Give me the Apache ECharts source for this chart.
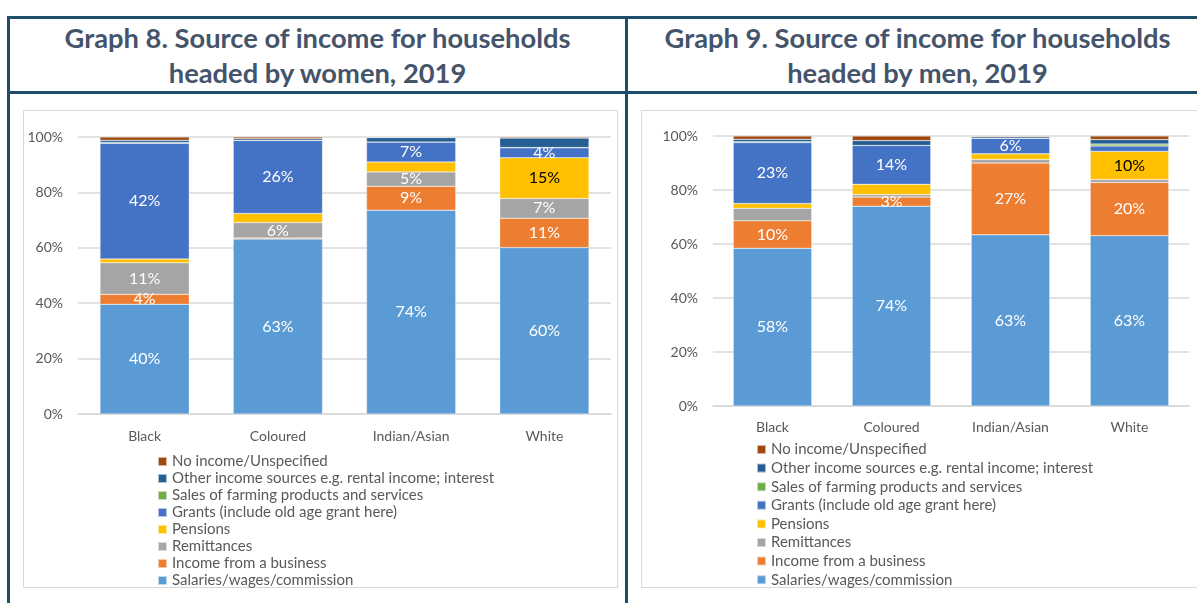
<!DOCTYPE html>
<html>
<head>
<meta charset="utf-8">
<script src="https://cdn.jsdelivr.net/npm/echarts@6/dist/echarts.min.js"></script>
<style>
  body { margin: 0; width: 1197px; height: 603px; overflow: hidden; background: #fff; position: relative; font-family: Lato, sans-serif; }
  .line { position: absolute; background: #1f4e6b; }
  .title { position: absolute; top: 20px; height: 70px; text-align: center; color: #44546a; font-weight: bold; font-size: 27.3px; line-height: 35px; white-space: nowrap; }
  .box { position: absolute; border: 1px solid #d9d9d9; box-sizing: border-box; }
  .chart { position: absolute; }
</style>
</head>
<body>
  <!-- table frame -->
  <div class="line" style="left:7px;top:16px;width:1200px;height:3px"></div>
  <div class="line" style="left:7px;top:91px;width:1200px;height:3px"></div>
  <div class="line" style="left:7px;top:16px;width:3px;height:600px"></div>
  <div class="line" style="left:625px;top:16px;width:3px;height:600px"></div>

  <div class="title" style="left:10px;width:615px">Graph 8. Source of income for households<br>headed by women, 2019</div>
  <div class="title" style="left:628px;width:579px">Graph 9. Source of income for households<br>headed by men, 2019</div>

  <div class="box" style="left:23px;top:110px;width:595px;height:478px"></div>
  <div class="box" style="left:641px;top:110px;width:600px;height:478px"></div>
  <div id="chartWomen" class="chart" style="left:24px;top:111px;width:593px;height:490px"></div>
  <div id="chartMen" class="chart" style="left:642px;top:111px;width:560px;height:490px"></div>

<script>
  var categories = ['Black', 'Coloured', 'Indian/Asian', 'White'];
  var seriesNames = [
    'Salaries/wages/commission',
    'Income from a business',
    'Remittances',
    'Pensions',
    'Grants (include old age grant here)',
    'Sales of farming products and services',
    'Other income sources e.g. rental income; interest',
    'No income/Unspecified'
  ];
  var seriesColors = ['#5b9bd5', '#ed7d31', '#a5a5a5', '#ffc000', '#4472c4', '#70ad47', '#255e91', '#9e480e'];
  var yTicks = [0, 20, 40, 60, 80, 100];

  // households headed by women (%), one array per source
  var salariesW = [39.6, 63.2, 73.6, 60.1];
  var businessW = [3.6, 0.3, 8.6, 10.6];
  var remittancesW = [11.4, 5.6, 5.2, 7.1];
  var pensionsW = [1.4, 3.3, 3.6, 14.7];
  var grantsW = [41.7, 26.4, 7.2, 3.6];
  var farmingW = [0.3, 0, 0, 0.1];
  var otherW = [0.8, 0.6, 1.6, 3.4];
  var noIncomeW = [1.2, 0.6, 0.2, 0.4];

  // households headed by men (%)
  var salariesM = [58.4, 74.0, 63.4, 63.1];
  var businessM = [10.2, 3.4, 26.6, 19.7];
  var remittancesM = [4.6, 0.9, 1.3, 1.1];
  var pensionsM = [1.8, 3.8, 2.1, 10.4];
  var grantsM = [22.6, 14.4, 5.8, 2.0];
  var farmingM = [0.3, 0, 0, 0.7];
  var otherM = [0.9, 1.8, 0.5, 1.7];
  var noIncomeM = [1.2, 1.7, 0.3, 1.3];

  // which segments carry a data label (1 = shown)
  var labelsW = [[1, 1, 1, 1], [1, 0, 1, 1], [1, 1, 1, 1], [0, 0, 0, 1], [1, 1, 1, 1], [0, 0, 0, 0], [0, 0, 0, 0], [0, 0, 0, 0]];
  var labelsM = [[1, 1, 1, 1], [1, 1, 1, 1], [0, 0, 0, 0], [0, 0, 0, 1], [1, 1, 1, 0], [0, 0, 0, 0], [0, 0, 0, 0], [0, 0, 0, 0]];

  var gray = '#595959';

  function drawChart(id, values, labels, stackName, box) {
    var chart = echarts.init(document.getElementById(id));
    var series = values.map(function (data, i) {
      return {
        name: seriesNames[i],
        type: 'bar',
        stack: stackName,
        barWidth: box.barWidth,
        data: data,
        itemStyle: { color: seriesColors[i], borderColor: 'rgba(255,255,255,0.6)', borderWidth: 0.5 },
        label: {
          show: true,
          position: 'inside',
          fontFamily: 'Lato',
          fontSize: 16,
          color: i === 3 ? '#000' : '#fff',
          formatter: function (p) {
            return labels[i][p.dataIndex] ? Math.round(p.value) + '%' : '';
          }
        }
      };
    });
    chart.setOption({
      animation: false,
      textStyle: { fontFamily: 'Lato' },
      grid: { left: box.left, top: box.top, width: box.width, height: box.height },
      legend: {
        orient: 'vertical',
        left: box.legendLeft,
        top: box.legendTop,
        height: 300,
        padding: 0,
        itemWidth: 9,
        itemHeight: 9,
        itemGap: box.legendGap,
        itemTextGap: 4,
        icon: 'rect',
        data: seriesNames.slice().reverse(),
        textStyle: { color: gray, fontSize: 15, lineHeight: 14 }
      },
      xAxis: {
        type: 'category',
        data: categories,
        axisLine: { lineStyle: { color: '#d9d9d9', width: 1.5 } },
        axisTick: { show: false },
        axisLabel: { color: gray, fontSize: 14, margin: box.xMargin }
      },
      yAxis: {
        type: 'value',
        min: yTicks[0],
        max: yTicks[yTicks.length - 1],
        interval: 20,
        axisLine: { show: false },
        axisTick: { show: false },
        splitLine: { lineStyle: { color: '#d9d9d9', width: 1.5 } },
        axisLabel: { color: gray, fontSize: 14, margin: 15, formatter: '{value}%' }
      },
      series: series
    });
  }

  drawChart('chartWomen',
    [salariesW, businessW, remittancesW, pensionsW, grantsW, farmingW, otherW, noIncomeW],
    labelsW, 'women',
    { left: 54, top: 26, width: 533, height: 277, barWidth: '67%', xMargin: 15, legendLeft: 133, legendTop: 343, legendGap: 2 });

  drawChart('chartMen',
    [salariesM, businessM, remittancesM, pensionsM, grantsM, farmingM, otherM, noIncomeM],
    labelsM, 'men',
    { left: 71, top: 25, width: 476, height: 270, barWidth: '66%', xMargin: 14, legendLeft: 114, legendTop: 331, legendGap: 3.6 });
</script>
</body>
</html>
